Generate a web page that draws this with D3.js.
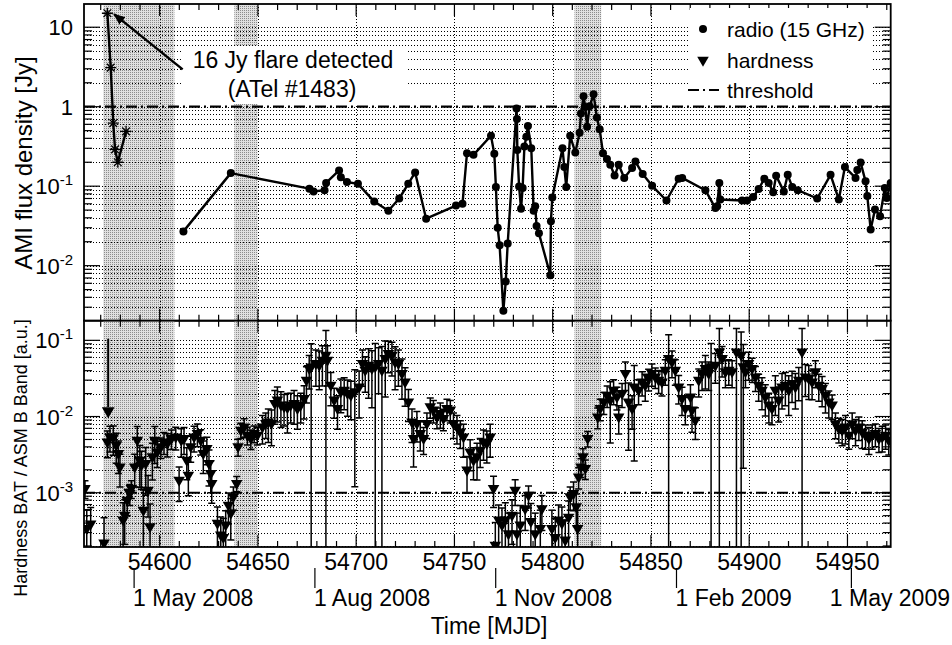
<!DOCTYPE html>
<html><head><meta charset="utf-8">
<script src="https://cdn.jsdelivr.net/npm/d3@7"></script>
<style>
body{margin:0;background:#fff}
svg{display:block}
text{font-family:"Liberation Sans",Arial,Helvetica,sans-serif;fill:#000}
</style>
</head><body>
<svg id="chart" width="952" height="645"></svg>
<script>
// ---------------- DATA ----------------
const flareMjd  = [54573.4, 54575.1, 54576.4, 54577.3, 54578.7, 54582.9];
const flareFlux = [15.0, 3.1, 0.62, 0.29, 0.20, 0.49];

const radioMjd = [54612.1,54636.2,54676.2,54678.3,54683.9,54684.7,54691.3,54692.2,54695.3,54700.9,
54709.2,54716.4,54721.9,54726.5,54730.0,54735.6,54750.8,54754.1,54756.4,54759.7,
54768.6,54770.3,54771.1,54772.0,54773.0,54774.9,54776.1,54777.1,54781.6,54781.8,
54782.0,54782.9,54783.9,54784.7,54785.6,54786.6,54787.4,54789.1,54790.3,54791.1,
54791.8,54793.0,54798.8,54799.1,54799.8,54805.0,54805.9,54806.9,54808.9,54811.5,
54813.7,54814.4,54815.7,54816.6,54817.5,54818.8,54820.8,54822.5,54823.9,54825.6,
54827.6,54829.3,54831.5,54833.6,54836.4,54840.4,54842.1,54845.8,54850.6,54857.9,
54864.1,54865.9,54877.7,54882.8,54883.7,54884.8,54885.3,54896.4,54898.9,54902.0,
54904.8,54907.7,54909.9,54912.2,54913.7,54917.6,54919.6,54921.9,54924.7,54934.6,
54941.4,54945.6,54948.7,54954.1,54955.0,54956.7,54959.2,54960.1,54961.8,54964.0,
54966.6,54969.0,54970.0,54972.0];
const radioFlux = [0.027,0.146,0.093,0.086,0.089,0.110,0.158,0.130,0.113,0.107,
0.064,0.049,0.070,0.107,0.149,0.039,0.057,0.060,0.26,0.248,
0.431,0.255,0.098,0.030,0.018,0.0027,0.0063,0.019,0.95,0.70,
0.286,0.099,0.052,0.095,0.315,0.42,0.57,0.30,0.049,0.056,
0.0315,0.0255,0.0076,0.0363,0.072,0.30,0.174,0.098,0.43,0.265,
0.47,0.82,1.35,0.99,0.56,1.01,1.43,0.73,0.52,0.26,
0.22,0.186,0.136,0.186,0.127,0.169,0.204,0.142,0.101,0.066,
0.124,0.127,0.089,0.053,0.056,0.110,0.068,0.066,0.066,0.073,
0.092,0.124,0.110,0.084,0.135,0.086,0.139,0.098,0.089,0.070,
0.139,0.068,0.174,0.127,0.160,0.198,0.115,0.075,0.0286,0.051,
0.042,0.095,0.071,0.110];

const hardMjd = [54562.0,54562.9,54564.9,54571.7,54573.4,54574.7,54576.4,54577.9,54579.0,54579.8,
54581.4,54582.2,54583.5,54584.8,54585.6,54587.3,54588.6,54589.9,54590.7,54591.7,
54592.9,54594.1,54595.1,54596.3,54597.5,54598.8,54600.6,54602.2,54603.9,54606.0,
54608.2,54609.9,54611.0,54612.4,54613.8,54614.6,54615.8,54617.5,54619.2,54620.9,
54622.2,54624.0,54625.1,54626.0,54626.5,54629.4,54631.1,54632.4,54633.6,54635.0,
54636.2,54637.5,54639.2,54639.9,54641.3,54643.0,54644.6,54646.4,54648.1,54649.7,
54652.3,54654.0,54655.3,54656.9,54658.6,54659.9,54661.7,54663.3,54665.0,54666.7,
54668.4,54670.1,54671.8,54673.5,54674.7,54676.1,54677.1,54679.5,54681.2,54682.8,
54684.6,54685.4,54687.1,54688.8,54690.5,54692.2,54693.9,54695.6,54697.3,54699.3,
54701.5,54703.2,54704.6,54706.3,54708.0,54709.7,54711.4,54713.1,54714.8,54716.4,
54718.2,54719.8,54721.5,54723.3,54724.9,54726.6,54728.4,54729.2,54730.9,54732.6,
54734.3,54736.0,54737.7,54739.3,54741.1,54742.8,54744.4,54746.2,54747.9,54749.5,
54751.3,54753.0,54754.6,54756.4,54758.0,54759.7,54761.5,54763.1,54764.8,54766.5,
54768.2,54769.9,54770.8,54772.5,54774.2,54775.9,54777.5,54779.3,54780.9,54781.8,
54783.5,54786.0,54787.7,54788.9,54791.1,54793.7,54794.5,54799.6,54801.3,54803.0,
54804.7,54806.4,54808.1,54808.9,54810.6,54812.0,54812.7,54813.2,54814.4,54815.4,
54816.6,54817.8,54822.9,54824.2,54826.0,54827.7,54829.3,54831.0,54832.7,54833.6,
54835.3,54837.0,54838.6,54840.4,54841.5,54843.7,54845.5,54847.1,54848.8,54850.5,
54852.2,54853.9,54855.6,54857.3,54859.0,54860.7,54862.4,54864.1,54865.8,54867.5,
54870.1,54870.9,54872.6,54874.3,54876.0,54877.7,54879.4,54880.6,54882.8,54884.8,
54886.2,54887.9,54889.6,54891.3,54893.5,54895.9,54897.0,54898.1,54899.7,54901.5,
54903.2,54904.8,54906.5,54908.2,54910.0,54911.6,54913.3,54915.0,54916.7,54918.4,
54920.1,54921.8,54923.5,54925.2,54926.9,54928.6,54930.3,54932.0,54933.7,54935.4,
54937.1,54938.8,54940.5,54942.2,54943.9,54945.6,54947.3,54949.0,54950.7,54952.4,
54954.1,54955.8,54957.5,54959.2,54960.9,54962.6,54964.2,54966.0,54967.7,54969.4,
54971.0];
const hardVal = [1.14e-3,3.4e-4,3.9e-4,2.2e-4,4.67e-3,5.43e-3,5.3e-3,4.23e-3,3.29e-3,2.19e-3,
4.4e-4,5.1e-4,8.0e-4,9.8e-4,1.14e-3,2.19e-3,4.92e-3,2.68e-3,2.31e-3,5.9e-4,
2.43e-3,1.08e-3,3.6e-4,2.97e-3,4.92e-3,3.45e-3,4.02e-3,4.67e-3,4.45e-3,5.18e-3,
5.43e-3,1.47e-3,4.92e-3,5.18e-3,2.68e-3,1.71e-3,4.02e-3,5.43e-3,6.0e-3,4.92e-3,
3.29e-3,3.83e-3,2.43e-3,1.8e-3,1.33e-3,4.0e-4,2.8e-4,2.6e-4,3.8e-4,6.9e-4,
5.4e-4,8.9e-4,1.33e-3,4.02e-3,6.65e-3,7.35e-3,5.72e-3,5.18e-3,6.02e-3,5.72e-3,
7.35e-3,8.14e-3,8.55e-3,8.14e-3,0.0149,0.0165,0.0142,0.0135,0.0131,0.0142,
0.0149,0.0128,0.0142,0.0173,0.0301,0.043,0.045,0.0499,0.0474,0.0551,
0.0641,0.0551,0.0259,0.0165,0.0128,0.0212,0.0223,0.0201,0.0191,0.0212,
0.0246,0.0499,0.0408,0.0474,0.043,0.0451,0.0499,0.0408,0.058,0.0675,
0.0641,0.0524,0.0499,0.0369,0.0286,0.0156,8.55e-3,5.18e-3,8.14e-3,6.02e-3,
5.18e-3,8.14e-3,0.0135,0.0122,9.9e-3,0.011,9.5e-3,0.0128,0.0122,8.14e-3,
7.35e-3,6.32e-3,5.43e-3,1.99e-3,3.45e-3,2.68e-3,2.97e-3,3.64e-3,4.67e-3,4.45e-3,
5.43e-3,1.14e-3,2.06e-4,4.4e-4,3.8e-4,4.4e-4,2.9e-4,5.1e-4,1.08e-3,2.9e-4,
3.8e-4,6.2e-4,9.3e-4,4.2e-4,2.9e-4,3.4e-4,6.2e-4,3.4e-4,2.6e-4,4.4e-4,
4.0e-4,2.4e-4,4.8e-4,8.9e-4,9.8e-4,6.6e-4,3.4e-4,1.62e-3,2.19e-3,2.97e-3,
2.09e-3,5.18e-3,9.9e-3,0.0128,0.0156,0.0191,0.0165,0.0223,0.0182,9.9e-3,
0.0201,0.0369,0.0156,0.0128,0.0246,0.0223,0.0286,0.0259,0.0317,0.0369,
0.0333,0.0301,0.0286,0.0408,0.058,0.0524,0.0408,0.0246,0.0173,0.0128,
0.0182,0.0122,9.0e-3,0.0301,0.0369,0.043,0.0369,0.0451,0.0474,0.0708,
0.058,0.0388,0.0408,0.0388,0.0708,0.0641,0.0451,0.0388,0.0499,0.043,
0.0333,0.0259,0.0223,0.0182,0.0142,0.0128,0.0223,0.0165,0.0246,0.0259,
0.0223,0.0273,0.0246,0.0301,0.0708,0.0333,0.0317,0.0286,0.0388,0.0259,
0.0234,0.0191,0.0156,0.0142,8.1e-3,7.0e-3,6.65e-3,7.35e-3,5.72e-3,8.1e-3,
6.65e-3,7.35e-3,6.32e-3,5.72e-3,5.18e-3,5.72e-3,6.0e-3,5.18e-3,5.43e-3,5.72e-3,
4.92e-3];
const hardErr = [3e-4,2.5e-4,2.5e-4,2.5e-4,1.8e-3,2e-3,2.2e-3,1.8e-3,1.5e-3,1e-3,
3e-4,3e-4,3e-4,3e-4,3e-4,1e-3,2.5e-3,1.5e-3,1.2e-3,5e-4,
1.5e-3,6e-4,3.5e-4,1.5e-3,2.5e-3,1.3e-3,1.2e-3,1.5e-3,1.5e-3,1.5e-3,
1.8e-3,7e-4,2e-3,2e-3,1.2e-3,8e-4,1.5e-3,2e-3,2e-3,1.8e-3,
1.5e-3,1.5e-3,1.2e-3,8e-4,6e-4,2.5e-4,2e-4,2e-4,2e-4,3e-4,
3e-4,3e-4,3e-4,1e-3,1.5e-3,2e-3,1.5e-3,1.5e-3,1.5e-3,1.5e-3,
3e-3,3e-3,4e-3,4e-3,7e-3,8e-3,7e-3,6e-3,7e-3,6e-3,
7e-3,6e-3,6e-3,8e-3,0.015,0.02,0.045,0.025,0.025,0.03,
0.07,0.03,0.012,0.007,0.006,0.01,0.01,0.01,0.01,0.02,
0.015,0.025,0.02,0.03,0.03,0.046,0.03,0.042,0.04,0.03,
0.03,0.03,0.025,0.02,0.015,0.007,4e-3,3e-3,3.5e-3,2.5e-3,
2e-3,3e-3,4e-3,4e-3,3e-3,4e-3,3e-3,4e-3,4e-3,3e-3,
3e-3,2.5e-3,2.5e-3,1e-3,1.5e-3,1.2e-3,1.5e-3,1.5e-3,2e-3,2e-3,
2.5e-3,5e-4,2e-4,2.5e-4,2.5e-4,3e-4,2.5e-4,3e-4,4e-4,2.5e-4,
3e-4,3e-4,3e-4,3e-4,2.5e-4,2.5e-4,3e-4,2.5e-4,2e-4,2.5e-4,
2.5e-4,2e-4,3e-4,3e-4,4e-4,3e-4,2.5e-4,5e-4,6e-4,8e-4,
6e-4,1.2e-3,3e-3,4e-3,5e-3,6e-3,0.012,8e-3,6e-3,4e-3,
7e-3,0.015,0.012,6e-3,0.022,8e-3,0.01,0.01,0.01,0.012,
0.01,0.01,0.01,0.015,0.06,0.02,0.015,0.01,7e-3,5e-3,
8e-3,6e-3,4e-3,0.012,0.015,0.02,0.015,0.046,0.02,0.072,
0.025,0.015,0.015,0.015,0.072,0.065,0.043,0.015,0.02,0.015,
0.012,0.01,0.01,8e-3,6e-3,5e-3,0.012,8e-3,0.012,0.012,
0.012,0.012,0.012,0.014,0.072,0.015,0.015,0.012,0.015,0.01,
0.01,8e-3,6e-3,5e-3,3e-3,2.5e-3,2.5e-3,3e-3,2e-3,3e-3,
2.5e-3,2.5e-3,2.5e-3,2e-3,2e-3,2e-3,2e-3,1.8e-3,2e-3,2e-3,
1.8e-3];

// upper limit in the hardness panel (arrow)
const limitMjd = [54573.8];
const limitFrom = [0.105];
const limitTo = [0.0105];

// shaded periods
const shadeStart = [54571.3, 54638.0, 54811.1];
const shadeEnd   = [54607.5, 54649.9, 54824.7];

const radioThreshold = 1;
const hardThreshold = 1e-3;

const xTickValues = [54600, 54650, 54700, 54750, 54800, 54850, 54900, 54950];
const dateMjd = [54587, 54679, 54771, 54863, 54952];
const dateLabels = ["1 May 2008", "1 Aug 2008", "1 Nov 2008", "1 Feb 2009", "1 May 2009"];
const topTickValues = [10, 1, 0.1, 0.01];
const botTickValues = [0.1, 0.01, 0.001];

const annotationLines = ["16 Jy flare detected", "(ATel #1483)"];
const annotationFrom = [54611.7, 2.95];
const annotationTo = [54576.8, 14.6];

const legendLabels = ["radio (15 GHz)", "hardness", "threshold"];

// ---------------- LAYOUT ----------------
const svg = d3.select("#chart");
const W = 952;
const L = 84, R = 890.7;
const T1 = 4, B1 = 320.7, T2 = 320.7, B2 = 547;

const x = d3.scaleLinear().domain([54561.5, 54972]).range([L, R]);
const yTop = d3.scaleLog().domain([0.00203, 19.6]).range([B1, T1]);
const yBot = d3.scaleLog().domain([1.94e-4, 0.181]).range([B2, T2]);

const defs = svg.append("defs");
const pat = defs.append("pattern").attr("id", "stip").attr("width", 2).attr("height", 2)
  .attr("patternUnits", "userSpaceOnUse");
pat.append("rect").attr("width", 2).attr("height", 2).attr("fill", "#e0e0e0");
pat.append("rect").attr("width", 1).attr("height", 1).attr("fill", "#8c8c8c");
defs.append("clipPath").attr("id", "clipTop").append("rect")
  .attr("x", L).attr("y", T1).attr("width", R - L).attr("height", B1 - T1);
defs.append("clipPath").attr("id", "clipBot").append("rect")
  .attr("x", L).attr("y", T2).attr("width", R - L).attr("height", B2 - T2);
const mk = defs.append("marker").attr("id", "ahead").attr("viewBox", "0 0 10 10")
  .attr("refX", 9).attr("refY", 5).attr("markerWidth", 5).attr("markerHeight", 5)
  .attr("markerUnits", "strokeWidth").attr("orient", "auto");
mk.append("path").attr("d", "M0,1 L10,5 L0,9 Z").attr("fill", "#000");

svg.append("rect").attr("width", W).attr("height", 645).attr("fill", "#fff");

function logTicks(scale) {
  const [lo, hi] = scale.domain();
  const out = [];
  for (let d = Math.floor(Math.log10(lo)); d <= Math.ceil(Math.log10(hi)); d++) {
    for (let k = 1; k <= 9; k++) {
      const v = k * Math.pow(10, d);
      if (v >= lo && v <= hi) out.push({v, major: k === 1});
    }
  }
  return out;
}

function panel(y, top, bottom, clipId) {
  const g = svg.append("g");
  g.append("g").attr("clip-path", `url(#${clipId})`).selectAll("rect")
    .data(shadeStart.map((s, i) => [s, shadeEnd[i]])).join("rect")
    .attr("x", d => x(d[0])).attr("width", d => x(d[1]) - x(d[0]))
    .attr("y", top).attr("height", bottom - top).attr("fill", "url(#stip)");
  const grid = g.append("g").attr("stroke", "#000").attr("stroke-width", 1.2)
    .attr("stroke-dasharray", "1.2,1.8").attr("shape-rendering", "crispEdges");
  logTicks(y).forEach(t => {
    grid.append("line").attr("x1", L).attr("x2", R)
      .attr("y1", Math.round(y(t.v)) + 0.5).attr("y2", Math.round(y(t.v)) + 0.5);
  });
  xTickValues.forEach(v => {
    grid.append("line").attr("x1", Math.round(x(v)) + 0.5).attr("x2", Math.round(x(v)) + 0.5)
      .attr("y1", top).attr("y2", bottom);
  });
  return g;
}

function frame(y, top, bottom) {
  const g = svg.append("g").attr("stroke", "#000").attr("fill", "none");
  logTicks(y).forEach(t => {
    const len = t.major ? 16 : 8;
    const yy = y(t.v);
    g.append("line").attr("x1", L).attr("x2", L + len).attr("y1", yy).attr("y2", yy).attr("stroke-width", 1.2);
    g.append("line").attr("x1", R).attr("x2", R - len).attr("y1", yy).attr("y2", yy).attr("stroke-width", 1.2);
  });
  for (let v = 54570; v <= 54970; v += 10) {
    const len = (v % 50 === 0) ? 12 : 6;
    const xx = x(v);
    g.append("line").attr("x1", xx).attr("x2", xx).attr("y1", bottom).attr("y2", bottom - len).attr("stroke-width", 1.2);
    g.append("line").attr("x1", xx).attr("x2", xx).attr("y1", top).attr("y2", top + len).attr("stroke-width", 1.2);
  }
  g.append("rect").attr("x", L).attr("y", top).attr("width", R - L).attr("height", bottom - top)
    .attr("stroke-width", 1.8);
}

function yLabels(y, vals) {
  vals.forEach(v => {
    const e = Math.round(Math.log10(v));
    const t = svg.append("text").attr("x", 73).attr("y", y(v) + 8).attr("text-anchor", "end")
      .attr("font-size", 22);
    if (e === 0) t.text("1");
    else if (e === 1) t.text("10");
    else {
      t.append("tspan").text("10");
      t.append("tspan").attr("dy", -9).attr("font-size", 15).text(String(e));
    }
  });
}

// ---------- TOP PANEL ----------
panel(yTop, T1, B1, "clipTop");

// annotation box
svg.append("rect").attr("x", 182).attr("y", 46).attr("width", 225).attr("height", 58).attr("fill", "#fff");

const topData = svg.append("g").attr("clip-path", "url(#clipTop)");
topData.append("line").attr("x1", L).attr("x2", R)
  .attr("y1", yTop(radioThreshold)).attr("y2", yTop(radioThreshold))
  .attr("stroke", "#000").attr("stroke-width", 2.2).attr("stroke-dasharray", "11,4,2,4");

const line = d3.line().x(d => x(d[0])).y(d => yTop(d[1]));
const radio = radioMjd.map((m, i) => [m, radioFlux[i]]);
const flare = flareMjd.map((m, i) => [m, flareFlux[i]]);
topData.append("path").attr("d", line(radio)).attr("fill", "none").attr("stroke", "#000").attr("stroke-width", 2.4)
  .attr("stroke-linejoin", "round");
topData.selectAll("circle.r").data(radio).join("circle").attr("class", "r")
  .attr("cx", d => x(d[0])).attr("cy", d => yTop(d[1])).attr("r", 4).attr("fill", "#000");
topData.append("path").attr("d", line(flare)).attr("fill", "none").attr("stroke", "#000").attr("stroke-width", 2.4);
const star = r => `M${-r},0L${r},0M0,${-r}L0,${r}M${-r*0.7},${-r*0.7}L${r*0.7},${r*0.7}M${-r*0.7},${r*0.7}L${r*0.7},${-r*0.7}`;
topData.selectAll("path.s").data(flare).join("path").attr("class", "s")
  .attr("transform", d => `translate(${x(d[0])},${yTop(d[1])})`)
  .attr("d", star(5.5)).attr("stroke", "#000").attr("stroke-width", 1.3).attr("fill", "none");

// annotation arrow + text
svg.append("line").attr("x1", x(annotationFrom[0])).attr("y1", yTop(annotationFrom[1]))
  .attr("x2", x(annotationTo[0])).attr("y2", yTop(annotationTo[1]))
  .attr("stroke", "#000").attr("stroke-width", 2.4).attr("marker-end", "url(#ahead)");
svg.append("text").attr("x", 293).attr("y", 68).attr("text-anchor", "middle").attr("font-size", 23).text(annotationLines[0]);
svg.append("text").attr("x", 292).attr("y", 97).attr("text-anchor", "middle").attr("font-size", 23).text(annotationLines[1]);

frame(yTop, T1, B1);
yLabels(yTop, topTickValues);

// ---------- BOTTOM PANEL ----------
panel(yBot, T2, B2, "clipBot");
const botData = svg.append("g").attr("clip-path", "url(#clipBot)");
botData.append("line").attr("x1", L).attr("x2", R)
  .attr("y1", yBot(hardThreshold)).attr("y2", yBot(hardThreshold))
  .attr("stroke", "#000").attr("stroke-width", 2.2).attr("stroke-dasharray", "11,4,2,4");

const hard = hardMjd.map((m, i) => ({m, v: hardVal[i], e: hardErr[i]}));
const ymin = yBot.domain()[0];
const eb = botData.append("g").attr("stroke", "#000").attr("stroke-width", 1.5).attr("fill", "none");
hard.forEach(d => {
  const xx = x(d.m);
  const yh = yBot(d.v + d.e);
  const lo = d.v - d.e;
  const yl = lo > ymin ? yBot(lo) : B2 + 2;
  eb.append("line").attr("x1", xx).attr("x2", xx).attr("y1", yh).attr("y2", yl);
  eb.append("line").attr("x1", xx - 3.5).attr("x2", xx + 3.5).attr("y1", yh).attr("y2", yh);
  if (lo > ymin) eb.append("line").attr("x1", xx - 3.5).attr("x2", xx + 3.5).attr("y1", yl).attr("y2", yl);
});
const tri = d3.symbol().type(d3.symbolTriangle).size(58);
botData.selectAll("path.t").data(hard).join("path").attr("class", "t")
  .attr("transform", d => `translate(${x(d.m)},${yBot(d.v)}) rotate(180)`)
  .attr("d", tri()).attr("fill", "#000");

// upper limit arrow
limitMjd.forEach((m, i) => {
  botData.append("line").attr("x1", x(m)).attr("x2", x(m))
    .attr("y1", yBot(limitFrom[i])).attr("y2", yBot(limitTo[i]) - 8)
    .attr("stroke", "#000").attr("stroke-width", 2);
  botData.append("path").attr("transform", `translate(${x(m)},${yBot(limitTo[i]) - 4}) rotate(180)`)
    .attr("d", d3.symbol().type(d3.symbolTriangle).size(70)()).attr("fill", "#000");
});

frame(yBot, T2, B2);
yLabels(yBot, botTickValues);

// ---------- X AXIS LABELS ----------
xTickValues.forEach(v => {
  svg.append("text").attr("x", x(v)).attr("y", 570).attr("text-anchor", "middle").attr("font-size", 23).text(v);
});
dateMjd.forEach((m, i) => {
  svg.append("line").attr("x1", x(m)).attr("x2", x(m)).attr("y1", 568).attr("y2", 588)
    .attr("stroke", "#000").attr("stroke-width", 1.2);
  const t = svg.append("text").attr("x", x(m) - 1).attr("y", 606).attr("font-size", 23).text(dateLabels[i]);
  const w = t.node().getComputedTextLength();
  if (x(m) - 1 + w > W - 2) t.attr("x", W - 2).attr("text-anchor", "end");
});
svg.append("text").attr("x", 489).attr("y", 634).attr("text-anchor", "middle").attr("font-size", 23).text("Time [MJD]");

// Y titles
svg.append("text").attr("transform", "translate(32,163) rotate(-90)").attr("text-anchor", "middle")
  .attr("font-size", 24).text("AMI flux density [Jy]");
svg.append("text").attr("transform", "translate(27,458) rotate(-90)").attr("text-anchor", "middle")
  .attr("font-size", 18).text("Hardness BAT / ASM B Band [a.u.]");

// ---------- LEGEND ----------
const lg = svg.append("g");
lg.append("rect").attr("x", 690).attr("y", 8).attr("width", 183).attr("height", 96).attr("fill", "#fff");
lg.append("circle").attr("cx", 703).attr("cy", 29).attr("r", 4).attr("fill", "#000");
lg.append("path").attr("transform", "translate(703,60) rotate(180)").attr("d", tri()).attr("fill", "#000");
lg.append("line").attr("x1", 688).attr("x2", 719).attr("y1", 90).attr("y2", 90)
  .attr("stroke", "#000").attr("stroke-width", 2.2).attr("stroke-dasharray", "11,4,2,4");
legendLabels.forEach((s, i) => {
  lg.append("text").attr("x", 727).attr("y", 37 + i * 30.5).attr("font-size", 21).text(s);
});
</script>
</body></html>
